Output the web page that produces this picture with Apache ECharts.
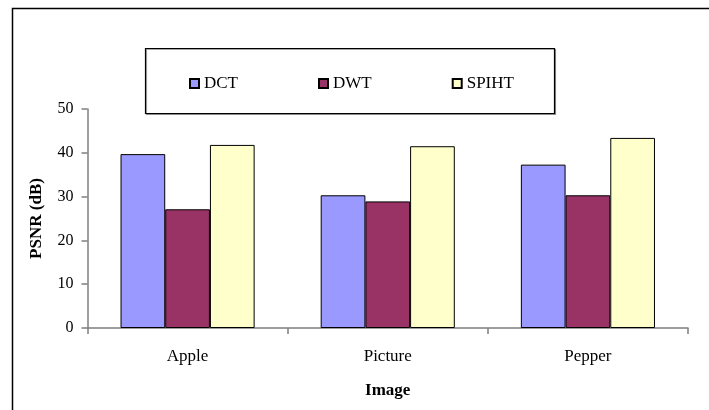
<!DOCTYPE html>
<html>
<head>
<meta charset="utf-8">
<script src="https://cdn.jsdelivr.net/npm/echarts@6/dist/echarts.min.js"></script>
<style>
  html, body { margin: 0; padding: 0; background: #fff; }
  #chart { width: 709px; height: 410px; }
</style>
</head>
<body>
<div id="chart"></div>
<script>
// Test images on the x axis
const categories = ['Apple', 'Picture', 'Pepper'];
// PSNR (dB) for each compression method
const dctValues = [39.7, 30.3, 37.3];
const dwtValues = [27.1, 28.9, 30.3];
const spihtValues = [41.8, 41.5, 43.4];
const seriesNames = ['DCT', 'DWT', 'SPIHT'];
const seriesColors = ['#9999FF', '#993366', '#FFFFCC'];
const yTicks = { min: 0, max: 50, interval: 10 };

const FONT = '"Liberation Serif", "Times New Roman", serif';
const chart = echarts.init(document.getElementById('chart'), null, { renderer: 'canvas' });

const seriesData = [dctValues, dwtValues, spihtValues];

chart.setOption({
  animation: false,
  backgroundColor: '#ffffff',
  textStyle: { fontFamily: FONT, color: '#000' },
  graphic: [
    // outer chart frame
    {
      type: 'rect', silent: true,
      shape: { x: 12.5, y: 8.5, width: 720, height: 420 },
      style: { fill: 'none', stroke: '#000', lineWidth: 1.5 }
    },
    // legend frame
    {
      type: 'rect', silent: true,
      shape: { x: 145.5, y: 48.5, width: 409, height: 65 },
      style: { fill: '#fff', stroke: '#000', lineWidth: 1.2, shadowColor: 'rgba(0,0,0,0.35)', shadowOffsetX: 1, shadowOffsetY: 1 }
    }
  ],
  legend: {
    data: seriesNames,
    left: 184,
    top: 70,
    itemWidth: 9,
    itemHeight: 9,
    itemGap: 80,
    icon: 'rect',
    textStyle: { fontFamily: FONT, fontSize: 17, color: '#000', padding: [0, 0, 0, 0] },
    z: 10
  },
  grid: { left: 87.5, right: 21, top: 109, bottom: 82, containLabel: false },
  xAxis: {
    type: 'category',
    data: categories,
    name: 'Image',
    nameLocation: 'middle',
    nameGap: 54,
    nameTextStyle: { fontFamily: FONT, fontSize: 17, fontWeight: 'bold', color: '#000' },
    axisLine: { lineStyle: { color: '#7f7f7f', width: 1.5 } },
    axisTick: { show: true, length: 6, inside: false, lineStyle: { color: '#7f7f7f', width: 1.5 } },
    axisLabel: { fontFamily: FONT, fontSize: 17, color: '#000', margin: 20 },
    splitLine: { show: false }
  },
  yAxis: {
    type: 'value',
    min: yTicks.min,
    max: yTicks.max,
    interval: yTicks.interval,
    name: 'PSNR (dB)',
    nameLocation: 'middle',
    nameGap: 42,
    nameRotate: 90,
    nameTextStyle: { fontFamily: FONT, fontSize: 17, fontWeight: 'bold', color: '#000' },
    axisLine: { show: true, lineStyle: { color: '#7f7f7f', width: 1.5 } },
    axisTick: { show: true, length: 6, lineStyle: { color: '#7f7f7f', width: 1.5 } },
    axisLabel: { fontFamily: FONT, fontSize: 16, color: '#000', margin: 14 },
    splitLine: { show: false }
  },
  series: seriesNames.map((name, i) => ({
    name: name,
    type: 'bar',
    data: seriesData[i],
    barGap: '0%',
    barCategoryGap: '33%',
    itemStyle: { color: seriesColors[i], borderColor: '#000', borderWidth: 1 }
  }))
});
</script>
</body>
</html>
